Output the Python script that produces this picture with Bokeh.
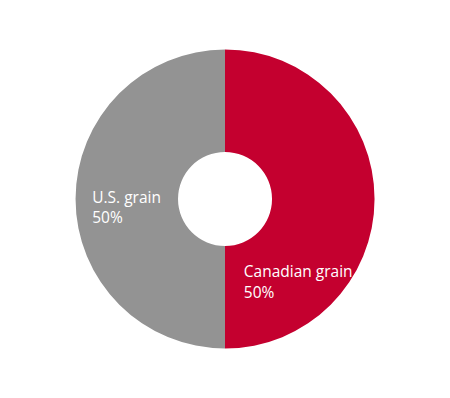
import math
from bokeh.plotting import figure
from bokeh.models import Range1d, ColumnDataSource
from bokeh.core.properties import value
from bokeh.embed import file_html
from bokeh.resources import INLINE

categories = ["Canadian grain", "U.S. grain"]
values = [50, 50]
colors = ["#C4002F", "#939393"]

W, H = 450, 398
cx, cy = 224.5, H - 198.5
r_out, r_in = 149.5, 47

# clockwise from top
total = sum(values)
starts, ends = [], []
acc = 0
for v in values:
    a0 = math.pi / 2 - 2 * math.pi * acc / total
    acc += v
    a1 = math.pi / 2 - 2 * math.pi * acc / total
    starts.append(a1)
    ends.append(a0)

src = ColumnDataSource(dict(cat=categories, val=values, color=colors,
                            start=starts, end=ends,
                            x=[cx] * len(values), y=[cy] * len(values)))

p = figure(width=W, height=H, x_range=Range1d(0, W), y_range=Range1d(0, H),
           output_backend="svg", toolbar_location=None, min_border=0)
p.axis.visible = False
p.grid.visible = False
p.outline_line_color = None
p.background_fill_color = "white"

p.annular_wedge(x="x", y="y", inner_radius=r_in, outer_radius=r_out,
                start_angle="start", end_angle="end", color="color",
                line_color=None, source=src)

# label anchors (pixel positions of text start / baselines)
lab_x = [243.3, 91.7]
lab_y1 = [H - 270, H - 196]
lab_y2 = [H - 291.5, H - 216.7]
FONT = value("Open Sans")
FS = "15.5px"
p.text(x=lab_x, y=lab_y1, text=categories, text_color="white",
       text_font=FONT, text_font_size=FS,
       text_baseline="alphabetic", text_align="left")
p.text(x=lab_x, y=lab_y2, text=[f"{v}%" for v in values], text_color="white",
       text_font=FONT, text_font_size=FS,
       text_baseline="alphabetic", text_align="left")

open("out.html", "w").write(file_html(p, INLINE))
